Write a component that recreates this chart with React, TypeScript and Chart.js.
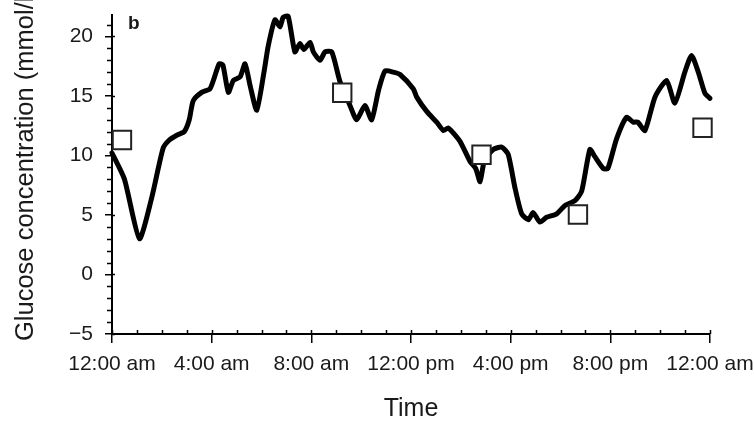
import React, { useEffect, useRef } from 'react';
import { Chart, registerables } from 'chart.js';

Chart.register(...registerables);

// ---- data ----
const hours = [
  0.0, 0.5, 1.1, 1.6, 2.05, 2.3, 2.6, 2.9, 3.1, 3.26, 3.6, 3.93, 4.1, 4.3, 4.45, 4.67, 4.87, 5.14,
  5.34, 5.55, 5.81, 6.1, 6.27, 6.54, 6.74, 6.87, 7.07, 7.34, 7.54, 7.7, 7.95, 8.08, 8.35, 8.55,
  8.82, 9.15, 9.55, 9.82, 10.15, 10.42, 10.7, 10.96, 11.29, 11.56, 12.09, 12.23, 12.63, 13.03,
  13.3, 13.5, 13.96, 14.37, 14.6, 14.77, 14.95, 15.3, 15.64, 15.9, 16.17, 16.44, 16.71, 16.9,
  17.17, 17.44, 17.85, 18.18, 18.58, 18.85, 19.18, 19.38, 19.72, 19.9, 20.25, 20.65, 20.92,
  21.1, 21.39, 21.79, 22.26, 22.59, 22.99, 23.26, 23.53, 23.8, 24.0,
];
const glucose = [
  10.2, 8.0, 3.0, 6.5, 10.6, 11.3, 11.7, 12.0, 13.0, 14.6, 15.3, 15.6, 16.5, 17.7, 17.6, 15.3,
  16.3, 16.6, 17.7, 15.8, 13.8, 17.0, 19.2, 21.4, 20.8, 21.6, 21.7, 18.7, 19.4, 18.9, 19.5, 18.7,
  18.0, 18.7, 18.7, 16.2, 14.2, 13.0, 14.2, 13.0, 15.5, 17.1, 17.0, 16.8, 15.6, 14.9, 13.7, 12.8,
  12.1, 12.3, 11.2, 9.5, 8.9, 7.8, 9.6, 10.5, 10.7, 10.1, 7.3, 5.1, 4.6, 5.2, 4.4, 4.8, 5.1, 5.8,
  6.2, 7.0, 10.5, 9.9, 8.9, 8.9, 11.4, 13.2, 12.8, 12.8, 12.1, 14.9, 16.3, 14.4, 17.0, 18.4,
  17.0, 15.2, 14.8,
];
const markerHours = [0.4, 9.24, 14.83, 18.7, 23.7];
const markerGlucose = [11.3, 15.27, 10.06, 5.04, 12.33];

const xTickLabels = ['12:00 am', '4:00 am', '8:00 am', '12:00 pm', '4:00 pm', '8:00 pm', '12:00 am'];
const yTickValues = [-5, 0, 5, 10, 15, 20];
const X_MIN = 0;
const X_MAX = 24;
const X_STEP = 4;
const X_MINOR_STEP = 1;
const Y_MIN = -5;
const Y_MAX = 21.8;
const Y_MINOR_STEP = 1;

const xTitle = 'Time';
const yTitle = 'Glucose concentration (mmol/l)';
const panelLabel = 'b';

const FONT = '"Liberation Sans", Arial, Helvetica, sans-serif';
const INK = '#1a1a1a';

const decorPlugin = {
  id: 'decor',
  afterDraw(chart: any) {
    const { ctx, chartArea, scales } = chart;
    const x = scales.x;
    const y = scales.y;
    ctx.save();
    ctx.strokeStyle = '#000';
    ctx.lineWidth = 1.5;
    ctx.beginPath();
    // x-axis ticks pointing up into the plot
    for (let v = X_MIN; v <= X_MAX + 1e-9; v += X_MINOR_STEP) {
      const px = Math.round(x.getPixelForValue(v)) + 0.5;
      ctx.moveTo(px, chartArea.bottom);
      ctx.lineTo(px, chartArea.bottom - 4);
    }
    // y-axis ticks: minor outside, major inner part
    for (let v = Y_MIN; v <= Y_MAX + 1e-9; v += Y_MINOR_STEP) {
      const py = Math.round(y.getPixelForValue(v)) + 0.5;
      const isMajor = yTickValues.includes(v);
      if (isMajor) {
        ctx.moveTo(chartArea.left, py);
        ctx.lineTo(chartArea.left + 3, py);
      } else {
        ctx.moveTo(chartArea.left, py);
        ctx.lineTo(chartArea.left - 5, py);
      }
    }
    ctx.stroke();

    // rotated y title
    ctx.fillStyle = INK;
    ctx.font = `25.5px ${FONT}`;
    ctx.translate(33, chartArea.bottom + 7);
    ctx.rotate(-Math.PI / 2);
    ctx.textAlign = 'left';
    ctx.textBaseline = 'alphabetic';
    ctx.fillText(yTitle, 0, 0);
    ctx.restore();

    // panel label
    ctx.save();
    ctx.fillStyle = INK;
    ctx.font = `bold 19px ${FONT}`;
    ctx.textAlign = 'left';
    ctx.textBaseline = 'alphabetic';
    ctx.fillText(panelLabel, chartArea.left + 16, chartArea.top + 14);
    ctx.restore();
  },
};

export default function App() {
  const canvasRef = useRef<HTMLCanvasElement | null>(null);

  useEffect(() => {
    document.body.style.margin = '0';
    const canvas = canvasRef.current;
    if (!canvas) return;
    const lineData = hours.map((h, i) => ({ x: h, y: glucose[i] }));
    const markerData = markerHours.map((h, i) => ({ x: h, y: markerGlucose[i] }));

    const chart = new Chart(canvas, {
      type: 'line',
      data: {
        datasets: [
          {
            label: 'Measured',
            data: markerData,
            showLine: false,
            clip: false,
            pointStyle: 'rect',
            pointRadius: 13,
            pointHoverRadius: 13,
            pointBackgroundColor: '#ffffff',
            pointBorderColor: '#222222',
            pointBorderWidth: 2,
          },
          {
            label: 'Glucose',
            data: lineData,
            borderColor: '#000000',
            borderWidth: 5,
            pointRadius: 0,
            tension: 0.2,
            borderJoinStyle: 'round',
            borderCapStyle: 'round',
            fill: false,
            clip: 4,
          },
        ],
      },
      options: {
        animation: false,
        responsive: true,
        maintainAspectRatio: false,
        layout: { padding: { top: 10, right: 44, left: 0, bottom: 0 } },
        plugins: {
          legend: { display: false },
          tooltip: { enabled: false },
        },
        scales: {
          x: {
            type: 'linear',
            min: X_MIN,
            max: X_MAX,
            ticks: {
              stepSize: X_STEP,
              autoSkip: false,
              maxRotation: 0,
              minRotation: 0,
              padding: 9,
              color: INK,
              font: { family: FONT, size: 21 },
              callback: (v: any) => xTickLabels[Math.round(Number(v) / X_STEP)] ?? '',
            },
            grid: {
              display: true,
              drawOnChartArea: false,
              drawTicks: true,
              tickLength: 9,
              color: '#000',
              lineWidth: 1.5,
            },
            border: { display: true, color: '#000', width: 2 },
            title: {
              display: true,
              text: xTitle,
              color: INK,
              font: { family: FONT, size: 25, lineHeight: 1 },
              padding: { top: 0, bottom: 0 },
            },
            afterFit: (scale: any) => {
              scale.height = 88;
              scale.paddingLeft = 0;
              scale.paddingRight = 0;
            },
          },
          y: {
            type: 'linear',
            min: Y_MIN,
            max: Y_MAX,
            afterBuildTicks: (scale: any) => {
              scale.ticks = yTickValues.map((v) => ({ value: v }));
            },
            ticks: {
              padding: 12,
              color: INK,
              font: { family: FONT, size: 21 },
              callback: (v: any) => {
                const n = Number(v);
                return n < 0 ? `\u2212${Math.abs(n)}` : `${n}`;
              },
            },
            grid: {
              display: true,
              drawOnChartArea: false,
              drawTicks: true,
              tickLength: 7,
              color: '#000',
              lineWidth: 1.5,
            },
            border: { display: true, color: '#000', width: 2 },
            title: { display: false },
            afterFit: (scale: any) => {
              scale.width = 112;
              scale.paddingTop = 0;
              scale.paddingBottom = 0;
            },
          },
        },
      },
      plugins: [decorPlugin],
    });
    return () => chart.destroy();
  }, []);

  return (
    <div style={{ width: 754, height: 422, position: 'relative' }}>
      <canvas ref={canvasRef} />
    </div>
  );
}
